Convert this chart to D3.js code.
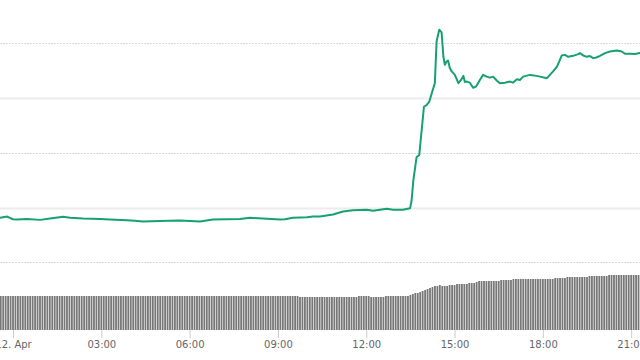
<!DOCTYPE html>
<html>
<head>
<meta charset="utf-8">
<script src="https://cdn.jsdelivr.net/npm/d3@7"></script>
<style>
  html, body { margin: 0; padding: 0; background: #fff; }
  svg { display: block; }
</style>
</head>
<body>
<svg id="chart" width="640" height="360"></svg>
<script>
// ---- data (hours relative to 12 Apr 00:00) ----
const lineHours = [-0.44,-0.20,0,0.14,0.48,0.92,1.26,1.70,1.94,2.38,
  2.96,3.30,3.87,4.14,4.42,4.99,5.67,6.35,6.79,7.71,
  8.05,8.49,9.07,9.24,9.51,9.99,10.19,10.43,10.87,11.21,
  11.55,12.02,12.23,12.70,12.91,13.25,13.49,13.54,13.60,13.71,
  13.80,13.96,14.05,14.14,14.26,14.33,14.39,14.48,14.56,14.62,
  14.67,14.73,14.78,14.84,14.91,15.01,15.13,15.22,15.30,15.35,
  15.42,15.52,15.63,15.73,15.86,15.97,16.09,16.20,16.31,16.44,
  16.54,16.71,16.88,16.98,17.12,17.22,17.33,17.56,17.79,17.90,
  18.14,18.34,18.48,18.58,18.64,18.75,18.86,19.03,19.20,19.26,
  19.37,19.49,19.60,19.71,19.82,19.94,20.11,20.28,20.51,20.68,
  20.79,20.96,21.13,21.30];
const linePrices = [99.06,99.17,98.93,98.90,98.96,98.87,98.99,99.15,99.06,98.99,
  98.96,98.90,98.83,98.78,98.72,98.76,98.81,98.72,98.90,98.96,
  99.06,98.99,98.90,98.93,99.06,99.11,99.17,99.17,99.36,99.63,
  99.75,99.79,99.70,99.88,99.79,99.79,99.94,100.64,102.48,104.61,
  104.77,109.20,109.36,109.66,110.73,111.35,115.17,116.24,115.99,113.79,
  113.03,113.33,113.42,112.72,112.41,112.11,111.35,111.65,112.02,111.47,
  111.50,111.40,110.94,111.04,111.65,112.11,111.95,111.86,111.95,111.58,
  111.35,111.40,111.50,111.40,111.72,111.65,111.95,112.11,112.02,111.95,
  111.81,112.41,112.87,113.49,113.88,113.94,113.76,113.85,114.01,114.10,
  113.88,113.76,113.83,113.64,113.70,113.85,114.10,114.25,114.34,114.25,
  114.04,114.04,114.01,114.10];

// volume bars: 5-minute intervals starting 11 Apr 23:35
const volStartHour = -0.4167;
const volStepMinutes = 5;
const volumes = [
  34,34,34,34,34,34,34,34,34,34,34,34,34,34,34,34,34,34,34,34,
  34,34,34,34,34,34,34,34,34,34,34,34,34,34,34,34,34,34,34,34,
  34,34,34,34,34,34,34,34,34,34,34,34,34,34,34,34,34,34,34,34,
  34,34,34,34,34,34,34,34,34,34,34,34,34,34,34,34,34,34,34,34,
  34,34,34,34,34,34,34,34,34,34,34,34,34,34,34,34,34,34,34,34,
  34,34,34,34,34,34,34,34,34,34,34,34,34,34,34,34,34,34,34,34,
  34,34,
  33,33,33,33,33,33,33,33,33,33,33,33,33,33,33,33,33,33,33,33,33,33,33,33,
  34,34,34,34,34,
  33,33,33,33,33,33,
  34,34,34,34,34,34,34,34,34,34,
  35,36,37,37,38,39,40,41,42,43,44,44,45,
  44,44,44,45,45,45,46,46,46,46,46,47,47,47,48,
  49,49,49,49,49,49,49,49,49,
  50,50,50,50,50,
  51,51,51,51,51,51,51,51,51,51,51,51,51,51,51,51,51,
  52,52,52,52,52,
  53,53,53,53,53,53,53,53,53,
  54,54,54,54,54,54,54,54,
  55,55,55,55,55,55,55,55,55,55,55,55,55
];

const priceTicks = [95, 100, 105, 110, 115];

// ---- setup ----
const base = new Date(2024, 3, 12, 0, 0, 0);
const hourToDate = h => new Date(base.getTime() + h * 3600000);

const svg = d3.select("#chart");
const W = 640, H = 360;

const x = d3.scaleTime()
  .domain([hourToDate(-0.442), hourToDate(21.30)])
  .range([0, 640]);

const y = d3.scaleLinear().domain([100, 110]).range([207.5, 98]);
const yVol = d3.scaleLinear().domain([0, 60]).range([330, 270]);

// gridlines
const grid = svg.append("g");
grid.selectAll("line").data(priceTicks).enter().append("line")
  .attr("x1", 0).attr("x2", W)
  .attr("y1", d => Math.round(y(d)) + 0.5)
  .attr("y2", d => Math.round(y(d)) + 0.5)
  .attr("stroke", d => d % 10 === 0 ? "#ececec" : "#dadada")
  .attr("stroke-width", d => d % 10 === 0 ? 2 : 1)
  .attr("stroke-dasharray", d => d % 10 === 0 ? null : "2,1");

// volume bars
const barW = 1.8;
svg.append("g").selectAll("rect").data(volumes).enter().append("rect")
  .attr("x", (d, i) => x(hourToDate(volStartHour + i * volStepMinutes / 60)) - barW / 2)
  .attr("y", d => yVol(d))
  .attr("width", barW)
  .attr("height", d => yVol(0) - yVol(d))
  .attr("fill", "#777777");

// x axis
const fmt = d => (d.getHours() === 0 && d.getMinutes() === 0)
  ? d3.timeFormat("%d. %b")(d).replace(/^0/, "")
  : d3.timeFormat("%H:%M")(d);
const xAxis = d3.axisBottom(x)
  .ticks(d3.timeHour.every(3))
  .tickFormat(fmt)
  .tickSize(8)
  .tickPadding(3);
const ax = svg.append("g").attr("transform", "translate(0,330)").call(xAxis);
ax.select(".domain").remove();
ax.selectAll(".tick line").attr("stroke", "#cccccc");
ax.selectAll(".tick text")
  .attr("fill", "#666666")
  .style("font-family", "'DejaVu Sans', sans-serif")
  .style("font-size", "10px");

// price line
const pts = lineHours.map((h, i) => [hourToDate(h), linePrices[i]]);
svg.append("path")
  .datum(pts)
  .attr("fill", "none")
  .attr("stroke", "#16a074")
  .attr("stroke-width", 2)
  .attr("stroke-linejoin", "round")
  .attr("stroke-linecap", "round")
  .attr("d", d3.line().x(d => x(d[0])).y(d => y(d[1])));
</script>
</body>
</html>
